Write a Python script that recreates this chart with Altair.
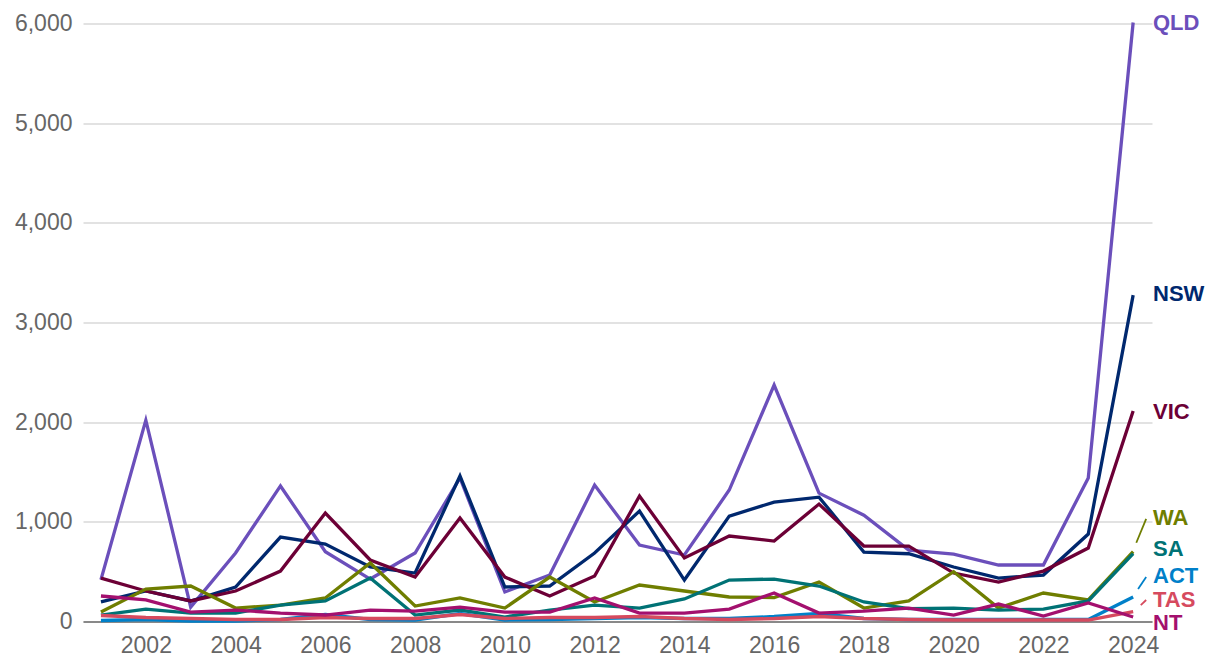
import altair as alt
import pandas as pd

years = list(range(2001, 2025))

states = ["QLD", "NSW", "VIC", "WA", "SA", "ACT", "TAS", "NT"]
colors = ["#6B4FBB", "#00286E", "#6C0036", "#6F7E00", "#007275", "#0080C9", "#D64A5E", "#A3106E"]

qld = [420, 2020, 145, 687, 1360, 700, 426, 687, 1440, 296, 466, 1369, 767, 667, 1319, 2372, 1288, 1067, 717, 677, 567, 567, 1440, 6010]
nsw = [196, 306, 206, 346, 847, 777, 547, 486, 1460, 346, 356, 687, 1108, 416, 1058, 1198, 1248, 697, 680, 547, 436, 466, 877, 3275]
vic = [436, 306, 206, 306, 506, 1088, 617, 446, 1038, 446, 256, 456, 1259, 637, 858, 807, 1178, 757, 757, 486, 396, 506, 737, 2111]
wa = [95, 326, 356, 135, 165, 236, 587, 155, 236, 135, 446, 196, 366, 306, 246, 240, 396, 135, 206, 500, 135, 286, 216, 700]
sa = [65, 125, 85, 85, 165, 206, 436, 65, 115, 45, 115, 165, 135, 226, 416, 426, 356, 196, 130, 135, 115, 125, 206, 680]
act = [10, 20, 5, 5, 20, 70, 20, 15, 80, 15, 20, 30, 40, 30, 30, 50, 80, 30, 20, 20, 20, 20, 20, 246]
tas = [60, 40, 30, 20, 20, 40, 30, 30, 70, 30, 40, 40, 50, 30, 20, 30, 50, 30, 20, 15, 15, 15, 15, 100]
nt = [256, 216, 95, 115, 85, 65, 115, 105, 145, 95, 95, 236, 85, 85, 125, 286, 85, 105, 135, 65, 175, 55, 186, 45]

series = [qld, nsw, vic, wa, sa, act, tas, nt]

# label anchor values (data units) at the right end
label_y = [6018, 3295, 2116, 1048, 737, 470, 225, -5]

# leader lines for crowded labels: state, start/end x (years), start/end values
leader_state = ["WA", "ACT", "TAS"]
leader_x1 = [2024.07, 2024.11, 2024.17]
leader_x2 = [2024.29, 2024.29, 2024.29]
leader_y1 = [790, 326, 165]
leader_y2 = [1030, 446, 216]

x_min, x_max = 2000.6, 2024.42
y_ticks = [0, 1000, 2000, 3000, 4000, 5000, 6000]
x_ticks = list(range(2002, 2025, 2))

rows = []
for s, vals in zip(states, series):
    for yr, v in zip(years, vals):
        rows.append({"state": s, "year": yr, "value": v})
df = pd.DataFrame(rows)

labels_df = pd.DataFrame({"state": states, "y": label_y, "x": [x_max] * len(states)})
leader_df = pd.DataFrame({"state": leader_state, "x1": leader_x1, "x2": leader_x2,
                          "y1": leader_y1, "y2": leader_y2})

FONT = "Liberation Sans"
W, H = 1069, 598

color_scale = alt.Scale(domain=states, range=colors)
xs = alt.Scale(domain=[x_min, x_max], nice=False, zero=False)
ys = alt.Scale(domain=[0, 6000], nice=False)

lines = alt.Chart(df).mark_line(strokeWidth=3.3, strokeJoin="miter", clip=False).encode(
    x=alt.X("year:Q", scale=xs,
            axis=alt.Axis(values=x_ticks, format="d", title=None, grid=False, ticks=False,
                          domain=True, domainColor="#6b6b6b", domainWidth=1.6,
                          labelFont=FONT, labelFontSize=23, labelColor="#666666",
                          labelPadding=13)),
    y=alt.Y("value:Q", scale=ys,
            axis=alt.Axis(values=y_ticks, format=",.0f", title=None, grid=True,
                          gridColor="#d9d9d9", gridWidth=1.6, ticks=False, domain=False,
                          labelFont=FONT, labelFontSize=23, labelColor="#666666",
                          labelPadding=11)),
    color=alt.Color("state:N", scale=color_scale, legend=None),
    detail="state:N",
    order=alt.Order("year:Q"),
)

texts = alt.Chart(labels_df).mark_text(align="left", baseline="middle", dx=1, dy=1,
                                       font=FONT, fontSize=22, fontWeight="bold").encode(
    x=alt.X("x:Q", scale=xs),
    y=alt.Y("y:Q", scale=ys),
    text="state:N",
    color=alt.Color("state:N", scale=color_scale, legend=None),
)

leaders = alt.Chart(leader_df).mark_rule(strokeWidth=1.8).encode(
    x=alt.X("x1:Q", scale=xs),
    x2="x2:Q",
    y=alt.Y("y1:Q", scale=ys),
    y2="y2:Q",
    color=alt.Color("state:N", scale=color_scale, legend=None),
)

chart = alt.layer(lines, leaders, texts).properties(
    width=W, height=H,
    autosize=alt.AutoSizeParams(type="none"),
    padding={"left": 75, "top": 15.5, "right": 60, "bottom": 36},
).configure(background="white").configure_view(strokeWidth=0, stroke=None)

chart.save("out.html", embed_options={"renderer": "svg", "actions": False})
